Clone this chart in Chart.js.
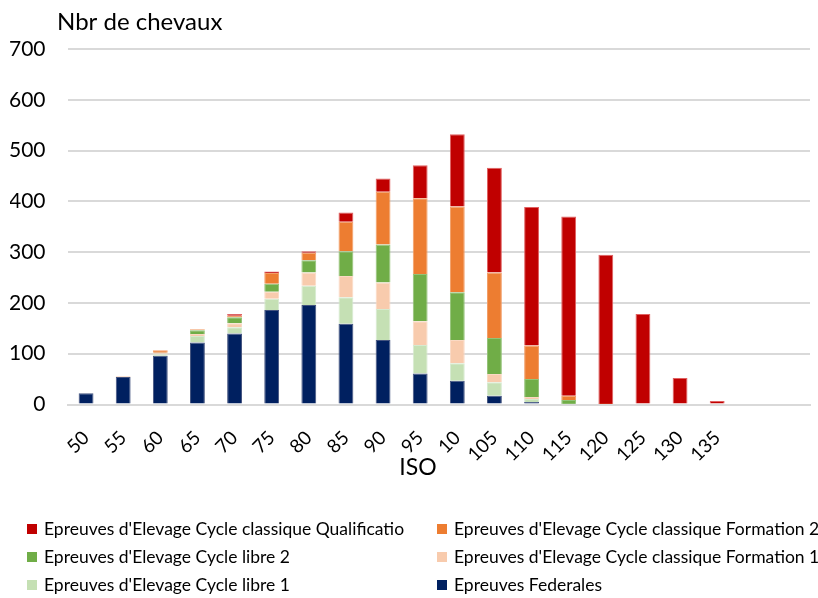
<!DOCTYPE html>
<html>
<head>
<meta charset="utf-8">
<script src="https://cdn.jsdelivr.net/npm/chart.js@4.4.1/dist/chart.umd.min.js"></script>
<style>
    body { margin: 0; background: #fff; }
    #wrap { position: relative; width: 818px; height: 598px; }
    #legende {
        position: absolute; left: 27px; top: 516px; width: 790px;
        display: grid; grid-template-columns: 410px 380px; row-gap: 3px;
        font-family: Lato, 'Open Sans', sans-serif; font-size: 17.5px; color: #000;
    }
    .item { display: flex; align-items: center; height: 25px; white-space: nowrap; }
    .carre { width: 10px; height: 10px; margin-right: 7px; flex: none; }
</style>
</head>
<body>
<div id="wrap">
    <canvas id="graphique" width="818" height="598"></canvas>
    <div id="legende"></div>
</div>
<script>
var categories = ['50', '55', '60', '65', '70', '75', '80', '85', '90', '95', '10', '105', '110', '115', '120', '125', '130', '135', '', ''];

// du bas vers le haut de la pile
var federales = [22, 54, 96, 122, 140, 186, 196, 159, 127, 61, 47, 17, 5, 0, 0, 0, 0, 0];
var libre1 = [0, 0, 3, 13, 12, 22, 38, 52, 61, 56, 34, 27, 6, 1, 0, 0, 0, 0];
var formation1 = [0, 0, 2, 4, 8, 14, 26, 42, 52, 47, 46, 16, 4, 0, 0, 0, 0, 0];
var libre2 = [0, 0, 1, 7, 12, 16, 24, 49, 75, 93, 94, 71, 35, 8, 0, 0, 0, 0];
var formation2 = [0, 1, 5, 2, 3, 21, 15, 58, 104, 149, 169, 129, 66, 8, 1, 0, 0, 0];
var qualification = [0, 0, 0, 0, 3, 3, 3, 18, 26, 65, 142, 206, 273, 353, 294, 178, 52, 7];

var yTicks = [0, 100, 200, 300, 400, 500, 600, 700];

var police = 'Lato, "Open Sans", sans-serif';

function serie(label, data, couleur, bord) {
    return {
        label: label,
        data: data,
        backgroundColor: couleur,
        borderColor: bord,
        borderWidth: 1,
        barPercentage: 0.4,
        categoryPercentage: 1
    };
}

var datasets = [
    serie('Epreuves Federales', federales, '#002060', '#44547f'),
    serie("Epreuves d'Elevage Cycle libre 1", libre1, '#c5e0b4', '#d6ead0'),
    serie("Epreuves d'Elevage Cycle classique Formation 1", formation1, '#f8cbad', '#fad9c4'),
    serie("Epreuves d'Elevage Cycle libre 2", libre2, '#70ad47', '#93c277'),
    serie("Epreuves d'Elevage Cycle classique Formation 2", formation2, '#ed7d31', '#f29d66'),
    serie("Epreuves d'Elevage Cycle classique Qualificatio", qualification, '#c00000', '#e06060')
];

// titres des axes, placés comme dans Excel
var titresAxes = {
    id: 'titresAxes',
    afterDraw: function (chart) {
        var ctx = chart.ctx;
        ctx.save();
        ctx.fillStyle = '#000';
        ctx.textBaseline = 'middle';
        ctx.font = '24px ' + police;
        ctx.textAlign = 'left';
        ctx.fillText('Nbr de chevaux', 57, 22);
        ctx.font = '23px ' + police;
        ctx.textAlign = 'center';
        ctx.fillText('ISO', 418, 468);
        ctx.restore();
    }
};

var ctx = document.getElementById('graphique').getContext('2d');
var monGraphique = new Chart(ctx, {
    type: 'bar',
    data: {
        labels: categories,
        datasets: datasets
    },
    options: {
        responsive: false,
        animation: false,
        layout: {
            padding: { top: 49, left: 10, right: 8, bottom: 118.5 }
        },
        scales: {
            x: {
                stacked: true,
                grid: { display: false },
                border: { color: '#d9d9d9', width: 2 },
                afterFit: function (scale) {
                    scale.paddingLeft = 0;
                    scale.paddingRight = 0;
                    scale.height = 75;
                },
                ticks: {
                    minRotation: 45,
                    maxRotation: 45,
                    autoSkip: false,
                    padding: 14,
                    color: '#000',
                    font: { family: police, size: 19 }
                }
            },
            y: {
                stacked: true,
                min: 0,
                max: 700,
                afterBuildTicks: function (axis) {
                    axis.ticks = yTicks.map(function (v) { return { value: v }; });
                },
                afterFit: function (scale) {
                    // Chart.js compte deux fois le padding des étiquettes
                    scale.width = 57.5;
                },
                grid: { color: '#d9d9d9', lineWidth: 2, drawTicks: false },
                border: { display: false },
                ticks: {
                    padding: 22,
                    color: '#000',
                    font: { family: police, size: 21 }
                }
            }
        },
        plugins: {
            legend: { display: false },
            tooltip: { enabled: false }
        }
    },
    plugins: [titresAxes]
});

// légende en deux colonnes, dans l'ordre de la référence
var ordre = [5, 4, 3, 2, 1, 0];
var legende = document.getElementById('legende');
for (var i = 0; i < ordre.length; i++) {
    var ds = monGraphique.data.datasets[ordre[i]];
    var item = document.createElement('div');
    item.className = 'item';
    var carre = document.createElement('span');
    carre.className = 'carre';
    carre.style.background = ds.backgroundColor;
    item.appendChild(carre);
    item.appendChild(document.createTextNode(ds.label));
    legende.appendChild(item);
}
</script>
</body>
</html>
